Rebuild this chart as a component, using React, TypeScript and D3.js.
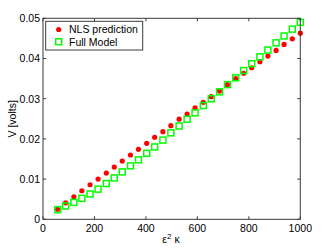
import React from "react";
import * as d3 from "d3";

const xValues = [57, 88, 120, 151, 183, 214, 246, 277, 308, 340, 371, 403, 434, 466, 497, 529, 560, 591, 623, 654, 686, 717, 749, 780, 811, 843, 874, 906, 937, 969, 1000];
const nlsValues = [0.0025, 0.0041, 0.0056, 0.0071, 0.0086, 0.0100, 0.0115, 0.0130, 0.0145, 0.0160, 0.0174, 0.0189, 0.0204, 0.0218, 0.0233, 0.0249, 0.0262, 0.0277, 0.0291, 0.0305, 0.0319, 0.0335, 0.0350, 0.0363, 0.0377, 0.0392, 0.0406, 0.0420, 0.0435, 0.0449, 0.0463];
const fullValues = [0.0024, 0.0033, 0.0042, 0.0052, 0.0063, 0.0075, 0.0089, 0.0103, 0.0118, 0.0133, 0.0148, 0.0164, 0.0180, 0.0197, 0.0215, 0.0232, 0.0249, 0.0265, 0.0283, 0.0300, 0.0317, 0.0335, 0.0352, 0.0370, 0.0387, 0.0404, 0.0421, 0.0439, 0.0456, 0.0473, 0.0490];
const xTicks = [0, 200, 400, 600, 800, 1000];
const yTicks = [0, 0.01, 0.02, 0.03, 0.04, 0.05];
const yTickLabels = ["0", "0.01", "0.02", "0.03", "0.04", "0.05"];
const seriesNames = ["NLS prediction", "Full Model"];

const W = 332, H = 249;
const L = 43, R = 300.3, T = 18.3, B = 219.3;
const axisColor = "#3a3a3a";
const font = "'Liberation Sans', Arial, Helvetica, sans-serif";

export default function App() {
  const x = d3.scaleLinear().domain([0, 1000]).range([L, R]);
  const y = d3.scaleLinear().domain([0, 0.05]).range([B, T]);
  const tk = 3;
  const sq = 6;
  return (
    <svg width={W} height={H} style={{ position: "absolute", left: 0, top: 0, background: "#fff" }}>
      <rect x={0} y={0} width={W} height={H} fill="#fff" />
      {nlsValues.map((v, i) => (
        <circle key={"n" + i} cx={x(xValues[i])} cy={y(v)} r={2.6} fill="#ff0000" />
      ))}
      {fullValues.map((v, i) => (
        <rect key={"f" + i} x={x(xValues[i]) - sq / 2} y={y(v) - sq / 2} width={sq} height={sq} fill="none" stroke="#00ff00" strokeWidth={1.5} />
      ))}
      {/* axes box */}
      <rect x={L} y={T} width={R - L} height={B - T} fill="none" stroke={axisColor} strokeWidth={1} />
      {xTicks.map((t) => (
        <g key={"xt" + t}>
          <line x1={x(t)} x2={x(t)} y1={B} y2={B - tk} stroke={axisColor} />
          <line x1={x(t)} x2={x(t)} y1={T} y2={T + tk} stroke={axisColor} />
          <text x={x(t)} y={232} textAnchor="middle" fontSize={10.5} fontFamily={font} fill="#000">{t}</text>
        </g>
      ))}
      {yTicks.map((t, i) => (
        <g key={"yt" + t}>
          <line x1={L} x2={L + tk} y1={y(t)} y2={y(t)} stroke={axisColor} />
          <line x1={R} x2={R - tk} y1={y(t)} y2={y(t)} stroke={axisColor} />
          <text x={40} y={y(t) + 3.8} textAnchor="end" fontSize={10.5} fontFamily={font} fill="#000">{yTickLabels[i]}</text>
        </g>
      ))}
      <text x={171} y={243} textAnchor="middle" fontSize={10.5} fontFamily={font} fill="#000">
        ε<tspan dy={-4} fontSize={8}>2</tspan><tspan dy={4}> κ</tspan>
      </text>
      <text transform={`translate(16,${(T + B) / 2}) rotate(-90)`} textAnchor="middle" fontSize={10.5} fontFamily={font} fill="#000">V [volts]</text>
      {/* legend */}
      <rect x={45.7} y={21.3} width={97} height={28.7} fill="#fff" stroke={axisColor} strokeWidth={1} />
      <circle cx={58.7} cy={29.5} r={2.6} fill="#ff0000" />
      <text x={69} y={33.2} fontSize={10.5} fontFamily={font} fill="#000">{seriesNames[0]}</text>
      <rect x={58.7 - 3} y={41.7 - 3} width={6} height={6} fill="none" stroke="#00ff00" strokeWidth={1.5} />
      <text x={69} y={45.5} fontSize={10.5} fontFamily={font} fill="#000">{seriesNames[1]}</text>
    </svg>
  );
}
